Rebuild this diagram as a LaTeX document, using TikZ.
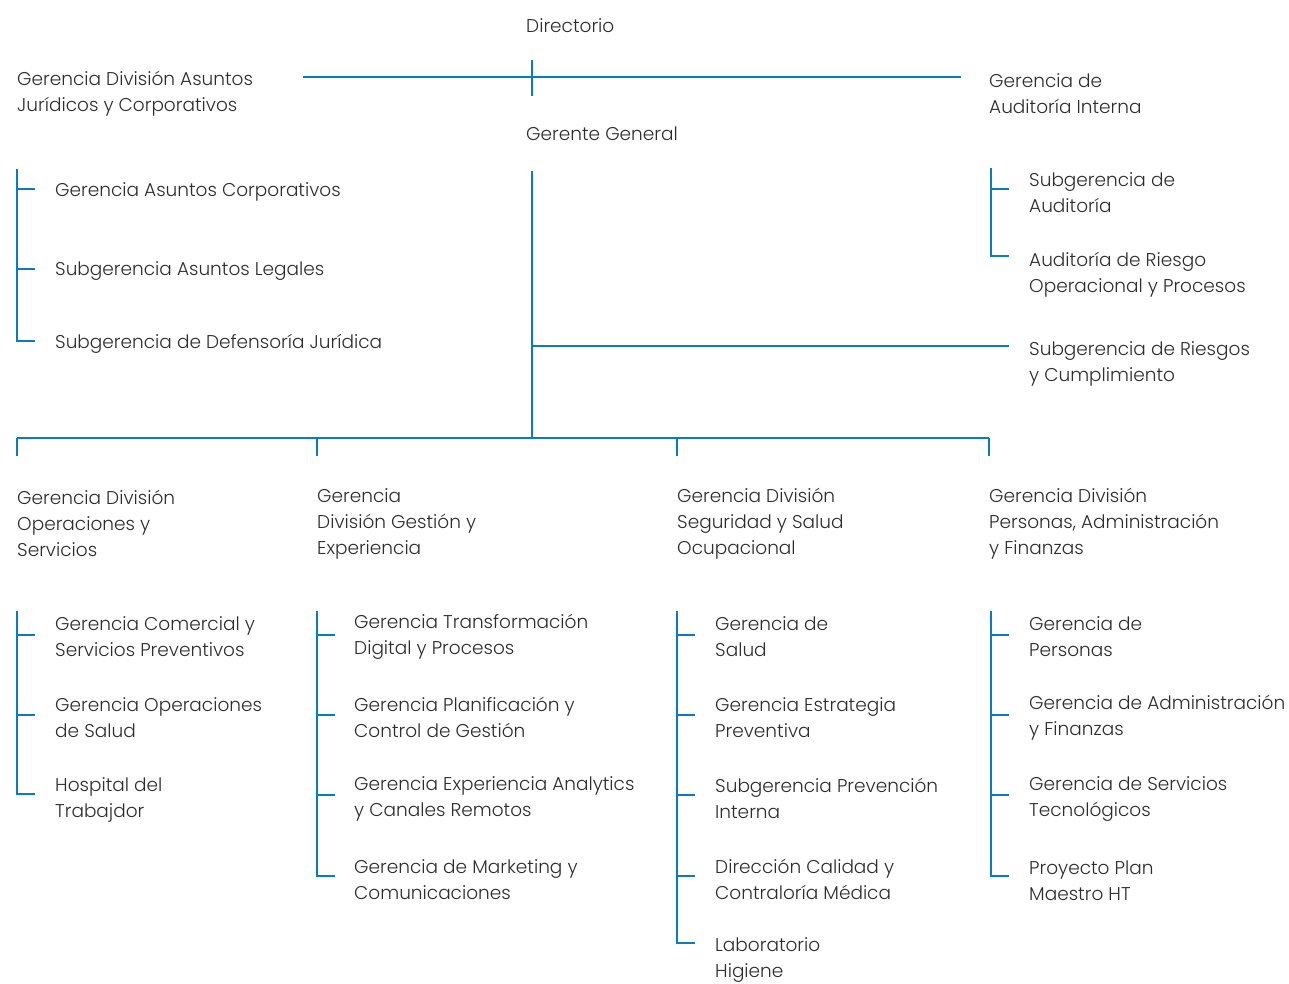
\documentclass[tikz,border=0pt]{standalone}
\usepackage{fontspec}
\setmainfont{Poppins}[UprightFont={* Light}]
\definecolor{lineblue}{RGB}{10,124,196}
\definecolor{textgray}{RGB}{45,45,45}
\begin{document}
\begin{tikzpicture}[x=1pt,y=-1pt,
  ln/.style={draw=lineblue,line width=2pt},
  txt/.style={anchor=west,align=left,inner sep=0pt,text=textgray,font=\fontsize{18.5}{26}\selectfont,yshift=-2.5pt}]
\useasboundingbox (0,0) rectangle (1289,983);
% top
\node[txt] (dir) at (526,23) {Directorio};
\node[txt] (gg) at (526,131) {Gerente General};
\node[txt] (gdajc) at (17,91) {Gerencia División Asuntos\\Jurídicos y Corporativos};
\node[txt] (gai) at (989,91) {Gerencia de\\Auditoría Interna};
\coordinate (hL) at (303,77);
\coordinate (hR) at (961,77);
\coordinate (tT) at (532,60);
\coordinate (tB) at (532,96);
\draw[ln] (hL) -- (hR);
\draw[ln] (tT) -- (tB);
% main trunk
\coordinate (trT) at (532,171);
\coordinate (trB) at (532,438);
\coordinate (br) at (532,346);
\coordinate (brR) at (1009,346);
\draw[ln] (trT) -- (trB);
\draw[ln] (br) -- (brR);
\node[txt] (sgrc) at (1029,361) {Subgerencia de Riesgos\\y Cumplimiento};
% left bracket
\coordinate (lb0) at (17,169);
\coordinate (lb1) at (17,189);
\coordinate (lb2) at (17,269);
\coordinate (lb3) at (17,341);
\draw[ln] (lb0) -- (lb3) -- ++(18,0);
\draw[ln] (lb1) -- ++(18,0);
\draw[ln] (lb2) -- ++(18,0);
\node[txt] (gac) at (55,189) {Gerencia Asuntos Corporativos};
\node[txt] (sal) at (55,269) {Subgerencia Asuntos Legales};
\node[txt] (sdj) at (55,341) {Subgerencia de Defensoría Jurídica};
% right bracket
\coordinate (rb0) at (991,168);
\coordinate (rb1) at (991,189);
\coordinate (rb2) at (991,256);
\draw[ln] (rb0) -- (rb2) -- ++(18,0);
\draw[ln] (rb1) -- ++(18,0);
\node[txt] (sda) at (1029,190) {Subgerencia de\\Auditoría};
\node[txt] (arop) at (1029,272) {Auditoría de Riesgo\\Operacional y Procesos};
% bottom bus
\coordinate (bL) at (17,438);
\coordinate (bR) at (989,438);
\draw[ln] (bL) -- (bR);
\foreach \x in {17,317,677,989} \draw[ln] (\x,438) -- (\x,456);
\node[txt] (d1) at (17,521) {Gerencia División\\Operaciones y\\Servicios};
\node[txt] (d2) at (317,521) {Gerencia\\División Gestión y\\Experiencia};
\node[txt] (d3) at (677,521) {Gerencia División\\Seguridad y Salud\\Ocupacional};
\node[txt] (d4) at (989,521) {Gerencia División\\Personas, Administración\\y Finanzas};
% column 1
\coordinate (c1t) at (17,611);
\coordinate (c1b) at (17,794);
\draw[ln] (c1t) -- (c1b) -- ++(18,0);
\foreach \y in {635,715} \draw[ln] (17,\y) -- ++(18,0);
\node[txt] (c1a) at (55,634) {Gerencia Comercial y\\Servicios Preventivos};
\node[txt] (c1b2) at (55,715) {Gerencia Operaciones\\de Salud};
\node[txt] (c1c) at (55,797) {Hospital del\\Trabajdor};
% column 2
\coordinate (c2t) at (317,611);
\coordinate (c2b) at (317,876);
\draw[ln] (c2t) -- (c2b) -- ++(18,0);
\foreach \y in {635,715,795} \draw[ln] (317,\y) -- ++(18,0);
\node[txt] (c2a) at (354,634) {Gerencia Transformación\\Digital y Procesos};
\node[txt] (c2b2) at (354,715) {Gerencia Planificación y\\Control de Gestión};
\node[txt] (c2c) at (354,796) {Gerencia Experiencia Analytics\\y Canales Remotos};
\node[txt] (c2d) at (354,877) {Gerencia de Marketing y\\Comunicaciones};
% column 3
\coordinate (c3t) at (677,611);
\coordinate (c3b) at (677,943);
\draw[ln] (c3t) -- (c3b) -- ++(18,0);
\foreach \y in {635,715,795,876} \draw[ln] (677,\y) -- ++(18,0);
\node[txt] (c3a) at (715,634) {Gerencia de\\Salud};
\node[txt] (c3b2) at (715,715) {Gerencia Estrategia\\Preventiva};
\node[txt] (c3c) at (715,796) {Subgerencia Prevención\\Interna};
\node[txt] (c3d) at (715,877) {Dirección Calidad y\\Contraloría Médica};
\node[txt] (c3e) at (715,958) {Laboratorio\\Higiene};
% column 4
\coordinate (c4t) at (991,611);
\coordinate (c4b) at (991,876);
\draw[ln] (c4t) -- (c4b) -- ++(18,0);
\foreach \y in {635,715,795} \draw[ln] (991,\y) -- ++(18,0);
\node[txt] (c4a) at (1029,634) {Gerencia de\\Personas};
\node[txt] (c4b2) at (1029,715) {Gerencia de Administración\\y Finanzas};
\node[txt] (c4c) at (1029,797) {Gerencia de Servicios\\Tecnológicos};
\node[txt] (c4d) at (1029,878) {Proyecto Plan\\Maestro HT};
\end{tikzpicture}
\end{document}
